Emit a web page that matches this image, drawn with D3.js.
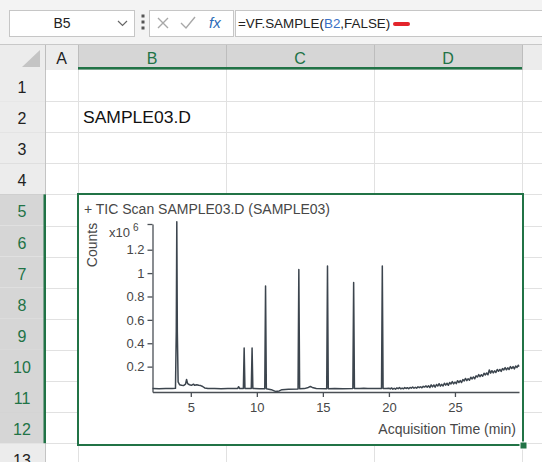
<!DOCTYPE html>
<html>
<head>
<meta charset="utf-8">
<script src="https://cdn.jsdelivr.net/npm/d3@7"></script>
<style>
html, body { margin: 0; padding: 0; background: #fff; overflow: hidden; }
svg { display: block; }
text { font-family: "Liberation Sans", Arial, sans-serif; }
</style>
</head>
<body>
<div id="sheet"></div>
<script>
// TIC chromatogram embedded in an Excel sheet (SAMPLE03.D)

// retention time (min) and counts (x10^6)
const retentionTimes = [
  2.1, 2.6, 3.1, 3.6, 3.84, 3.9, 3.94, 3.98, 4.04, 4.15, 4.3, 4.45, 4.6, 4.68, 4.76, 4.9,
  5.05, 5.2, 5.3, 5.45, 5.6, 5.75, 5.9, 6.05, 6.3, 6.8, 7.3, 7.8, 8.3, 8.55, 8.62, 8.7,
  8.98, 9.04, 9.1, 9.58, 9.64, 9.7, 10.2, 10.6, 10.66, 10.72, 11.1, 11.4, 11.7, 11.9, 12.4,
  13.12, 13.18, 13.24, 13.6, 13.9, 14.05, 14.2, 14.5, 15.29, 15.35, 15.41, 15.9, 16.5,
  17.27, 17.33, 17.39, 17.8, 18.1, 18.4, 19.44, 19.5, 19.56, 19.8,
  20.0, 20.1, 20.2, 20.3, 20.4, 20.5, 20.6, 20.7, 20.8, 20.9,
  21.0, 21.1, 21.2, 21.3, 21.4, 21.5, 21.6, 21.7, 21.8, 21.9,
  22.0, 22.1, 22.2, 22.3, 22.4, 22.5, 22.6, 22.7, 22.8, 22.9,
  23.0, 23.1, 23.2, 23.3, 23.4, 23.5, 23.6, 23.7, 23.8, 23.9,
  24.0, 24.1, 24.2, 24.3, 24.4, 24.5, 24.6, 24.7, 24.8, 24.9,
  25.0, 25.1, 25.2, 25.3, 25.4, 25.5, 25.6, 25.7, 25.8, 25.9,
  26.0, 26.1, 26.2, 26.3, 26.4, 26.5, 26.6, 26.7, 26.8, 26.9,
  27.0, 27.1, 27.2, 27.3, 27.4, 27.5, 27.6, 27.7, 27.8, 27.9,
  28.0, 28.1, 28.2, 28.3, 28.4, 28.5, 28.6, 28.7, 28.8, 28.9,
  29.0, 29.1, 29.2, 29.3, 29.4, 29.5, 29.6, 29.7, 29.8, 29.85
];
const ticCounts = [
  0.012, 0.011, 0.012, 0.012, 0.014, 0.5, 1.44, 0.5, 0.07, 0.045, 0.04, 0.038, 0.05, 0.09, 0.055, 0.045,
  0.04, 0.05, 0.04, 0.045, 0.04, 0.038, 0.03, 0.018, 0.013, 0.012, 0.011, 0.012, 0.013, 0.014, 0.028, 0.013,
  0.013, 0.36, 0.013, 0.014, 0.36, 0.013, 0.011, 0.01, 0.89, 0.01, 0.003, -0.012, -0.008, 0.003, 0.007,
  0.009, 1.03, 0.01, 0.012, 0.022, 0.03, 0.022, 0.013, 0.011, 1.06, 0.011, 0.012, 0.011,
  0.012, 0.92, 0.012, 0.013, 0.015, 0.012, 0.012, 1.06, 0.013, 0.012,
  0.016, 0.009, 0.018, 0.007, 0.015, 0.007, 0.018, 0.011, 0.021, 0.010,
  0.017, 0.010, 0.021, 0.013, 0.020, 0.011, 0.022, 0.016, 0.026, 0.015,
  0.023, 0.016, 0.028, 0.020, 0.028, 0.019, 0.031, 0.025, 0.035, 0.025,
  0.036, 0.021, 0.044, 0.027, 0.043, 0.024, 0.047, 0.034, 0.054, 0.033,
  0.048, 0.034, 0.058, 0.042, 0.058, 0.040, 0.064, 0.052, 0.072, 0.052,
  0.068, 0.055, 0.080, 0.064, 0.081, 0.064, 0.089, 0.078, 0.099, 0.080,
  0.096, 0.084, 0.109, 0.095, 0.112, 0.096, 0.121, 0.111, 0.132, 0.114,
  0.131, 0.118, 0.144, 0.129, 0.146, 0.130, 0.172, 0.144, 0.165, 0.146,
  0.164, 0.150, 0.175, 0.160, 0.176, 0.159, 0.183, 0.172, 0.192, 0.173,
  0.190, 0.176, 0.200, 0.184, 0.200, 0.181, 0.205, 0.193, 0.212, 0.200
];
const yTicks = [0.2, 0.4, 0.6, 0.8, 1, 1.2];
const xTicks = [5, 10, 15, 20, 25];

const columnLetters = ["A", "B", "C", "D"];
const rowNumbers = [1, 2, 3, 4, 5, 6, 7, 8, 9, 10, 11, 12, 13];
const selectedRows = [5, 6, 7, 8, 9, 10, 11, 12];

const width = 542;
const height = 462;
const green = "#217346";

const svg = d3.select("#sheet")
  .append("svg")
  .attr("width", width)
  .attr("height", height);

svg.append("rect").attr("width", width).attr("height", height).attr("fill", "#fff");

// ---- formula bar ----
svg.append("rect").attr("width", width).attr("height", 44).attr("fill", "#f3f3f3");

svg.append("rect").attr("x", 9.5).attr("y", 10.5).attr("width", 125).attr("height", 26)
  .attr("fill", "#fff").attr("stroke", "#c6c6c6");
svg.append("text").attr("x", 62).attr("y", 28).attr("text-anchor", "middle")
  .attr("font-size", 14).attr("fill", "#222").text("B5");
svg.append("path").attr("d", "M118,21 L122.5,25.5 L127,21")
  .attr("fill", "none").attr("stroke", "#666").attr("stroke-width", 1.2);

[16, 22, 28].forEach(cy => {
  svg.append("rect").attr("x", 141.5).attr("y", cy - 1.5).attr("width", 3).attr("height", 3).attr("fill", "#555");
});

svg.append("rect").attr("x", 149.5).attr("y", 10.5).attr("width", 84).attr("height", 26)
  .attr("fill", "#fff").attr("stroke", "#c6c6c6");
svg.append("path").attr("d", "M158,18 L168,28 M168,18 L158,28")
  .attr("fill", "none").attr("stroke", "#a8a8a8").attr("stroke-width", 1.4);
svg.append("path").attr("d", "M181,23 L186,28 L195,17")
  .attr("fill", "none").attr("stroke", "#a8a8a8").attr("stroke-width", 1.4);
svg.append("text").attr("x", 209).attr("y", 28).attr("font-size", 15)
  .attr("font-style", "italic").attr("font-family", "DejaVu Serif, serif")
  .attr("fill", "#2e6db8").text("fx");

svg.append("rect").attr("x", 235.5).attr("y", 10.5).attr("width", 320).attr("height", 26)
  .attr("fill", "#fff").attr("stroke", "#c6c6c6");
const formula = svg.append("text").attr("x", 238).attr("y", 28).attr("font-size", 13.4)
  .attr("fill", "#222");
formula.append("tspan").text("=VF.SAMPLE(");
formula.append("tspan").attr("fill", "#3a6fc4").text("B2");
formula.append("tspan").text(",FALSE)");
svg.append("rect").attr("x", 393).attr("y", 22).attr("width", 17).attr("height", 4).attr("rx", 2)
  .attr("fill", "#e3242b");

// ---- grid geometry ----
const colEdges = [45, 78, 226, 374, 522, 542];
const rowTop = 70;
const rowH = 31.1;

// column headers
svg.append("rect").attr("x", 0).attr("y", 44).attr("width", width).attr("height", 26).attr("fill", "#ececec");
svg.append("line").attr("x1", 0).attr("x2", width).attr("y1", 44.5).attr("y2", 44.5).attr("stroke", "#c8c8c8");
svg.append("rect").attr("x", 78).attr("y", 45).attr("width", 444).attr("height", 25).attr("fill", "#d6d6d6");
svg.append("path").attr("d", "M22,67 L40,67 L40,50 Z").attr("fill", "#c4c4c4");

colEdges.slice(0, 5).forEach(cx => {
  svg.append("line").attr("x1", cx + 0.5).attr("x2", cx + 0.5).attr("y1", 45).attr("y2", 70)
    .attr("stroke", "#bdbdbd");
});
columnLetters.forEach((c, i) => {
  svg.append("text")
    .attr("x", (colEdges[i] + colEdges[i + 1]) / 2).attr("y", 64)
    .attr("text-anchor", "middle").attr("font-size", 16)
    .attr("font-family", "Lato, sans-serif")
    .attr("fill", i === 0 ? "#222" : green).text(c);
});
svg.append("rect").attr("x", 78).attr("y", 67).attr("width", 444).attr("height", 2.5).attr("fill", green);

// cell grid lines
rowNumbers.forEach((r, i) => {
  const yy = Math.round(rowTop + (i + 1) * rowH) + 0.5;
  svg.append("line").attr("x1", 45).attr("x2", width).attr("y1", yy).attr("y2", yy).attr("stroke", "#e1e1e1");
});
colEdges.slice(1, 5).forEach(cx => {
  svg.append("line").attr("x1", cx + 0.5).attr("x2", cx + 0.5).attr("y1", 70).attr("y2", height).attr("stroke", "#e1e1e1");
});

// row headers
rowNumbers.forEach((r, i) => {
  const y0 = rowTop + i * rowH;
  const sel = selectedRows.includes(r);
  svg.append("rect").attr("x", 0).attr("y", y0).attr("width", 45).attr("height", rowH)
    .attr("fill", sel ? "#d6d6d6" : "#ececec");
  svg.append("line").attr("x1", 0).attr("x2", 45)
    .attr("y1", Math.round(y0 + rowH) + 0.5).attr("y2", Math.round(y0 + rowH) + 0.5)
    .attr("stroke", "#c4c4c4");
  svg.append("text").attr("x", 22).attr("y", y0 + 23)
    .attr("text-anchor", "middle").attr("font-size", 16)
    .attr("font-family", "Lato, sans-serif")
    .attr("fill", sel ? green : "#222").text(r);
});
svg.append("line").attr("x1", 45.5).attr("x2", 45.5).attr("y1", 70).attr("y2", height).attr("stroke", "#c4c4c4");
svg.append("rect").attr("x", 43.5).attr("y", rowTop + 4 * rowH).attr("width", 2.5).attr("height", 8 * rowH).attr("fill", green);

// cell B2
svg.append("text").attr("x", 83).attr("y", rowTop + rowH + 22)
  .attr("font-size", 16).attr("font-family", "Lato, sans-serif").attr("fill", "#111")
  .attr("textLength", 108).attr("lengthAdjust", "spacingAndGlyphs")
  .text("SAMPLE03.D");

// ---- chart object ----
const box = { x0: 78, y0: 194, x1: 523, y1: 445 };
svg.append("rect").attr("x", box.x0).attr("y", box.y0)
  .attr("width", box.x1 - box.x0).attr("height", box.y1 - box.y0)
  .attr("fill", "#fff").attr("stroke", green).attr("stroke-width", 2);
svg.append("rect").attr("x", box.x1 - 3).attr("y", box.y1 - 3).attr("width", 7).attr("height", 7)
  .attr("fill", green).attr("stroke", "#fff").attr("stroke-width", 1);

const x = d3.scaleLinear().domain([2.1, 29.85]).range([152.5, 519]);
const y = d3.scaleLinear().domain([-0.017, 1.42]).range([392, 224]);

const textColor = "#474747";

svg.append("text").attr("x", 84).attr("y", 214).attr("font-size", 14).attr("fill", textColor)
  .text("+ TIC Scan SAMPLE03.D (SAMPLE03)");

svg.append("text").attr("transform", "translate(97,245) rotate(-90)")
  .attr("text-anchor", "middle").attr("font-size", 14).attr("fill", textColor).text("Counts");

const mult = svg.append("text").attr("x", 109).attr("y", 237).attr("font-size", 13).attr("fill", textColor);
mult.append("tspan").text("x10");
mult.append("tspan").attr("dx", 3).attr("dy", -6).attr("font-size", 10).text("6");

const yAxis = svg.append("g")
  .attr("transform", `translate(${x.range()[0]},0)`)
  .call(d3.axisLeft(y)
    .tickValues(yTicks.concat([1.42]))
    .tickFormat(d => d > 1.3 ? "" : String(+d.toFixed(1)))
    .tickSize(5).tickSizeOuter(0).tickPadding(3));

const xAxis = svg.append("g")
  .attr("transform", `translate(0,${y.range()[0]})`)
  .call(d3.axisBottom(x)
    .tickValues(xTicks)
    .tickSize(5).tickSizeOuter(0).tickPadding(6));

[yAxis, xAxis].forEach(g => {
  g.selectAll("path, line").attr("stroke", "#4a4f55").attr("stroke-width", 1.3);
  g.selectAll("text").attr("font-size", 13)
    .attr("font-family", "Liberation Sans, Arial, sans-serif").attr("fill", textColor);
});

svg.append("text").attr("x", 516).attr("y", 434).attr("text-anchor", "end")
  .attr("font-size", 14).attr("fill", textColor).text("Acquisition Time (min)");

const trace = retentionTimes.map((t, i) => [t, ticCounts[i]]);
svg.append("path")
  .datum(trace)
  .attr("fill", "none")
  .attr("stroke", "#3c454e")
  .attr("stroke-width", 1.5)
  .attr("stroke-linejoin", "round")
  .attr("d", d3.line().x(d => x(d[0])).y(d => y(d[1])));
</script>
</body>
</html>
